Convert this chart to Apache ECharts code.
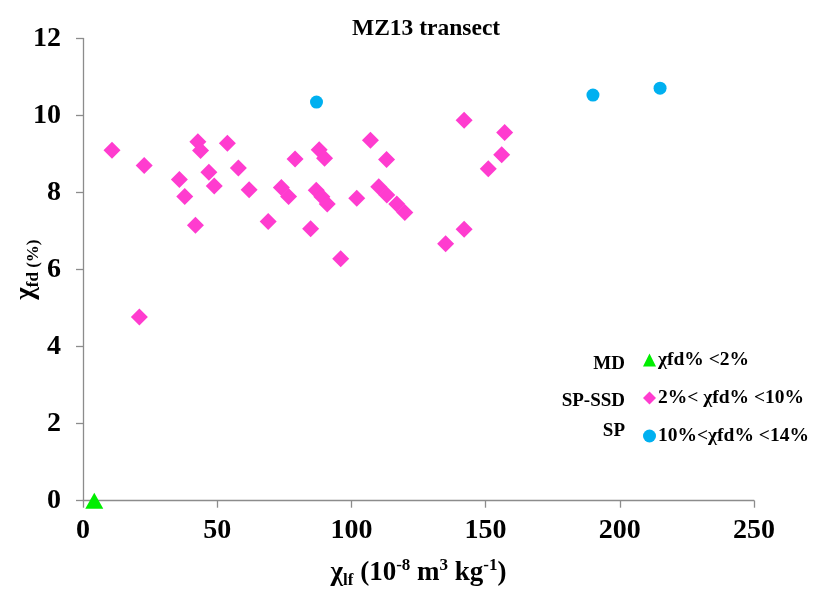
<!DOCTYPE html>
<html>
<head>
<meta charset="utf-8">
<script src="https://cdn.jsdelivr.net/npm/echarts@6/dist/echarts.min.js"></script>
<style>html,body{margin:0;padding:0;background:#fff}#c{width:818px;height:593px}</style>
</head>
<body>
<div id="c"></div>
<script>
const xTicks = [0, 50, 100, 150, 200, 250];
const yTicks = [0, 2, 4, 6, 8, 10, 12];
const mdX = [4.2];
const mdY = [0];
const sspX = [10.8, 22.8, 21.0, 35.9, 37.9, 41.9, 42.8, 43.8, 46.9, 48.9, 53.8, 57.9, 61.9, 69.0, 73.9, 76.6, 79.0, 84.8, 86.9, 88.0, 89.0, 90.0, 91.0, 96.0, 102.0, 107.1, 110.2, 113.1, 113.2, 116.9, 119.9, 135.1, 142.0, 142.0, 151.0, 156.0, 157.1];
const sspY = [9.10, 8.70, 4.77, 8.34, 7.90, 7.15, 9.32, 9.09, 8.53, 8.17, 9.28, 8.64, 8.07, 7.25, 8.13, 7.90, 8.87, 7.06, 8.06, 9.11, 7.89, 8.89, 7.70, 6.28, 7.85, 9.36, 8.15, 8.86, 7.94, 7.70, 7.48, 6.67, 7.05, 9.88, 8.62, 8.98, 9.56];
const spX = [87.0, 190.0, 215.0];
const spY = [10.35, 10.53, 10.71];
const seriesNames = ['χfd% <2%', '2%< χfd% <10%', '10%<χfd% <14%'];
const groupLabels = ['MD', 'SP-SSD', 'SP'];

const zip = (xs, ys) => xs.map((x, i) => [x, ys[i]]);
const serif = '"Liberation Serif", "Times New Roman", serif';
const chart = echarts.init(document.getElementById('c'));
const axisLineStyle = { color: '#8c8c8c', width: 1.3 };
const labelTops = [355, 392, 422];
const richName = {
  a: { fontFamily: serif, fontWeight: 'bold', fontSize: 27, color: '#000', lineHeight: 32, verticalAlign: 'middle' },
  s: { fontFamily: serif, fontWeight: 'bold', fontSize: 17, color: '#000', lineHeight: 16, verticalAlign: 'bottom' },
  p: { fontFamily: serif, fontWeight: 'bold', fontSize: 17, color: '#000', lineHeight: 18, verticalAlign: 'top' },
  t: { fontFamily: serif, fontWeight: 'bold', fontSize: 17, color: '#000', lineHeight: 22, verticalAlign: 'bottom' }
};
chart.setOption({
  animation: false,
  backgroundColor: '#fff',
  title: {
    text: 'MZ13 transect', left: 347, top: 12,
    textStyle: { fontFamily: serif, fontWeight: 'bold', fontSize: 23.5, color: '#000' }
  },
  grid: { left: 83, right: 64, top: 38.5, bottom: 92.3, containLabel: false, outerBoundsMode: 'none' },
  legend: {
    orient: 'vertical', left: 638, top: 345, itemGap: 18, itemWidth: 13, itemHeight: 13,
    data: seriesNames.map(n => ({ name: n })),
    textStyle: { fontFamily: serif, fontWeight: 'bold', fontSize: 19.5, color: '#000', padding: [0, 0, 0, -3] }
  },
  graphic: groupLabels.map((t, i) => ({
    type: 'text', right: 818 - 625, top: labelTops[i],
    style: { text: t, font: 'bold 19px ' + serif, fill: '#000', textAlign: 'right' }
  })),
  xAxis: {
    type: 'value', min: 0, max: 250, interval: 50,
    axisLine: { show: true, onZero: false, lineStyle: axisLineStyle },
    axisTick: { show: true, length: 7, lineStyle: axisLineStyle },
    splitLine: { show: false },
    axisLabel: { margin: 16, fontFamily: serif, fontWeight: 'bold', fontSize: 28, color: '#000',
      formatter: v => xTicks.includes(v) ? String(v) : '' },
    name: '{a|χ}{s|lf}{a| (10}{p|-8}{a| m}{p|3}{a| kg}{p|-1}{a|)}',
    nameLocation: 'middle', nameGap: 56, nameMoveOverlap: false,
    nameTextStyle: { rich: richName }
  },
  yAxis: {
    type: 'value', min: 0, max: 12, interval: 2,
    axisLine: { show: true, onZero: false, lineStyle: axisLineStyle },
    axisTick: { show: true, length: 7, lineStyle: axisLineStyle },
    splitLine: { show: false },
    axisLabel: { margin: 22, fontFamily: serif, fontWeight: 'bold', fontSize: 28, color: '#000',
      formatter: v => yTicks.includes(v) ? String(v) : '' },
    name: '{a|χ}{s|fd}{t| (%)}',
    nameLocation: 'middle', nameGap: 41, nameRotate: 90, nameMoveOverlap: false,
    nameTextStyle: { rich: richName }
  },
  series: [
    { name: seriesNames[0], type: 'scatter', symbol: 'triangle', symbolSize: [18, 16],
      itemStyle: { color: '#00ee00', opacity: 1 }, data: zip(mdX, mdY), z: 3 },
    { name: seriesNames[1], type: 'scatter', symbol: 'diamond', symbolSize: [17, 17],
      itemStyle: { color: '#ff3ccf', opacity: 1 }, data: zip(sspX, sspY) },
    { name: seriesNames[2], type: 'scatter', symbol: 'circle', symbolSize: 13,
      itemStyle: { color: '#00b0f0', opacity: 1 }, data: zip(spX, spY) }
  ]
});
</script>
</body>
</html>
